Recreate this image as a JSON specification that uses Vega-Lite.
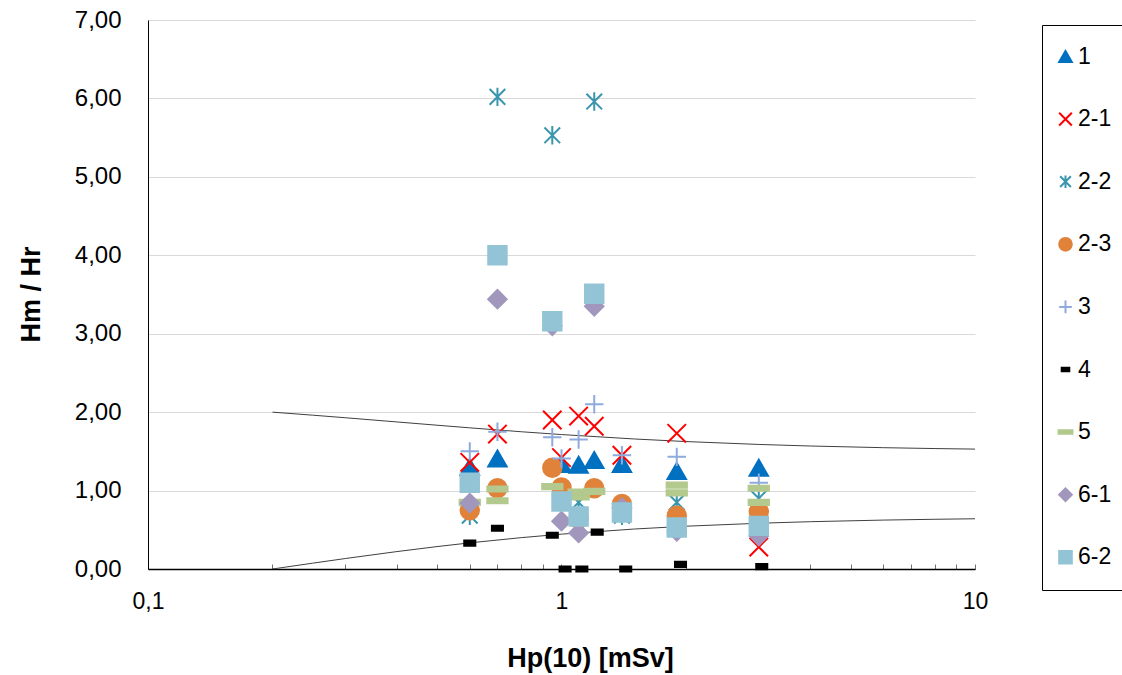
{
  "$schema": "https://vega.github.io/schema/vega-lite/v6.json",
  "autosize": {"type": "none"},
  "padding": {"left": 148, "top": 20, "right": 147, "bottom": 106},
  "width": 827,
  "height": 549,
  "background": "white",
  "config": {
    "view": {"stroke": null},
    "font": "Liberation Sans",
    "axis": {"labelFont": "Liberation Sans", "titleFont": "Liberation Sans", "labelColor": "black", "titleColor": "black"},
    "legend": {"labelFont": "Liberation Sans"}
  },
  "datasets": {
    "pts": [
      {"s": "1", "x": 0.6, "y": 1.3},
      {"s": "1", "x": 0.7, "y": 1.41},
      {"s": "1", "x": 1.0, "y": 1.34},
      {"s": "1", "x": 1.1, "y": 1.33},
      {"s": "1", "x": 1.2, "y": 1.39},
      {"s": "1", "x": 1.4, "y": 1.34},
      {"s": "1", "x": 1.9, "y": 1.25},
      {"s": "1", "x": 3.0, "y": 1.29},
      {"s": "2-1", "x": 0.6, "y": 1.36},
      {"s": "2-1", "x": 0.7, "y": 1.72},
      {"s": "2-1", "x": 0.95, "y": 1.9},
      {"s": "2-1", "x": 1.0, "y": 1.42},
      {"s": "2-1", "x": 1.1, "y": 1.95},
      {"s": "2-1", "x": 1.2, "y": 1.82},
      {"s": "2-1", "x": 1.4, "y": 1.45},
      {"s": "2-1", "x": 1.9, "y": 1.73},
      {"s": "2-1", "x": 3.0, "y": 0.28},
      {"s": "2-2", "x": 0.6, "y": 0.68},
      {"s": "2-2", "x": 0.7, "y": 6.02},
      {"s": "2-2", "x": 0.95, "y": 5.53},
      {"s": "2-2", "x": 1.1, "y": 0.85},
      {"s": "2-2", "x": 1.2, "y": 5.96},
      {"s": "2-2", "x": 1.4, "y": 0.68},
      {"s": "2-2", "x": 1.9, "y": 0.85},
      {"s": "2-2", "x": 3.0, "y": 0.9},
      {"s": "2-3", "x": 0.6, "y": 0.75},
      {"s": "2-3", "x": 0.7, "y": 1.03},
      {"s": "2-3", "x": 0.95, "y": 1.29},
      {"s": "2-3", "x": 1.0, "y": 1.04},
      {"s": "2-3", "x": 1.1, "y": 0.64},
      {"s": "2-3", "x": 1.2, "y": 1.03},
      {"s": "2-3", "x": 1.4, "y": 0.83},
      {"s": "2-3", "x": 1.9, "y": 0.68},
      {"s": "2-3", "x": 3.0, "y": 0.73},
      {"s": "3", "x": 0.6, "y": 1.5},
      {"s": "3", "x": 0.7, "y": 1.75},
      {"s": "3", "x": 0.95, "y": 1.68},
      {"s": "3", "x": 1.0, "y": 1.41},
      {"s": "3", "x": 1.1, "y": 1.65},
      {"s": "3", "x": 1.2, "y": 2.1},
      {"s": "3", "x": 1.4, "y": 1.45},
      {"s": "3", "x": 1.9, "y": 1.43},
      {"s": "3", "x": 3.0, "y": 1.1},
      {"s": "4", "x": 0.6, "y": 0.33},
      {"s": "4", "x": 0.7, "y": 0.52},
      {"s": "4", "x": 0.95, "y": 0.43},
      {"s": "4", "x": 1.02, "y": 0.0},
      {"s": "4", "x": 1.12, "y": 0.0},
      {"s": "4", "x": 1.22, "y": 0.47},
      {"s": "4", "x": 1.43, "y": 0.0},
      {"s": "4", "x": 1.94, "y": 0.06},
      {"s": "4", "x": 3.05, "y": 0.03},
      {"s": "5", "x": 0.6, "y": 0.85},
      {"s": "5", "x": 0.7, "y": 1.02},
      {"s": "5", "x": 0.7, "y": 0.87},
      {"s": "5", "x": 0.95, "y": 1.05},
      {"s": "5", "x": 1.1, "y": 0.98},
      {"s": "5", "x": 1.1, "y": 0.92},
      {"s": "5", "x": 1.2, "y": 0.99},
      {"s": "5", "x": 1.9, "y": 1.07},
      {"s": "5", "x": 1.9, "y": 0.97},
      {"s": "5", "x": 3.0, "y": 1.03},
      {"s": "5", "x": 3.0, "y": 0.85},
      {"s": "6-1", "x": 0.6, "y": 0.84},
      {"s": "6-1", "x": 0.7, "y": 3.44},
      {"s": "6-1", "x": 0.95, "y": 3.1},
      {"s": "6-1", "x": 1.0, "y": 0.61},
      {"s": "6-1", "x": 1.1, "y": 0.46},
      {"s": "6-1", "x": 1.2, "y": 3.35},
      {"s": "6-1", "x": 1.4, "y": 0.78},
      {"s": "6-1", "x": 1.9, "y": 0.48},
      {"s": "6-1", "x": 3.0, "y": 0.42},
      {"s": "6-2", "x": 0.6, "y": 1.1},
      {"s": "6-2", "x": 0.7, "y": 4.0},
      {"s": "6-2", "x": 0.95, "y": 3.16},
      {"s": "6-2", "x": 1.0, "y": 0.86},
      {"s": "6-2", "x": 1.1, "y": 0.67},
      {"s": "6-2", "x": 1.2, "y": 3.51},
      {"s": "6-2", "x": 1.4, "y": 0.72},
      {"s": "6-2", "x": 1.9, "y": 0.53},
      {"s": "6-2", "x": 3.0, "y": 0.55}
    ],
    "curves": [
      {"c": "upper", "x": 0.2, "y": 2.0},
      {"c": "upper", "x": 0.25, "y": 1.9615},
      {"c": "upper", "x": 0.3, "y": 1.9286},
      {"c": "upper", "x": 0.4, "y": 1.875},
      {"c": "upper", "x": 0.5, "y": 1.8333},
      {"c": "upper", "x": 0.6, "y": 1.8},
      {"c": "upper", "x": 0.8, "y": 1.75},
      {"c": "upper", "x": 1.0, "y": 1.7143},
      {"c": "upper", "x": 1.5, "y": 1.6579},
      {"c": "upper", "x": 2.0, "y": 1.625},
      {"c": "upper", "x": 3.0, "y": 1.5882},
      {"c": "upper", "x": 4.0, "y": 1.5682},
      {"c": "upper", "x": 6.0, "y": 1.5469},
      {"c": "upper", "x": 8.0, "y": 1.5357},
      {"c": "upper", "x": 10.0, "y": 1.5288},
      {"c": "lower", "x": 0.2, "y": 0.0},
      {"c": "lower", "x": 0.25, "y": 0.0741},
      {"c": "lower", "x": 0.3, "y": 0.1333},
      {"c": "lower", "x": 0.4, "y": 0.2222},
      {"c": "lower", "x": 0.5, "y": 0.2857},
      {"c": "lower", "x": 0.6, "y": 0.3333},
      {"c": "lower", "x": 0.8, "y": 0.4},
      {"c": "lower", "x": 1.0, "y": 0.4444},
      {"c": "lower", "x": 1.5, "y": 0.5098},
      {"c": "lower", "x": 2.0, "y": 0.5455},
      {"c": "lower", "x": 3.0, "y": 0.5833},
      {"c": "lower", "x": 4.0, "y": 0.6032},
      {"c": "lower", "x": 6.0, "y": 0.6237},
      {"c": "lower", "x": 8.0, "y": 0.6341},
      {"c": "lower", "x": 10.0, "y": 0.6405}
    ]
  },
  "layer": [
    {
      "data": {"name": "curves"},
      "mark": {"type": "line", "color": "#404040", "strokeWidth": 1, "clip": true},
      "encoding": {
        "x": {"field": "x", "type": "quantitative", "scale": {"type": "log", "domain": [0.1, 10], "nice": false},
          "axis": {
            "title": "Hp(10) [mSv]", "titleFontSize": 27, "titleFontWeight": "bold", "titleX": 442, "titleY": 76,
            "values": [0.1, 0.2, 0.3, 0.4, 0.5, 0.6, 0.7, 0.8, 0.9, 1, 2, 3, 4, 5, 6, 7, 8, 9, 10],
            "labelExpr": "datum.value == 0.1 ? '0,1' : (datum.value == 1 ? '1' : (datum.value == 10 ? '10' : ''))",
            "labelOverlap": false, "labelFlush": false, "labelFontSize": 23, "labelPadding": 26,
            "grid": false, "domainColor": "black", "domainWidth": 1.5, "tickColor": "#707070", "tickSize": -5, "tickWidth": 1
          }},
        "y": {"field": "y", "type": "quantitative", "scale": {"domain": [0, 7], "nice": false},
          "axis": {
            "title": "Hm / Hr", "titleFontSize": 27, "titleFontWeight": "bold", "titleX": -103, "titleY": 274,
            "values": [0, 1, 2, 3, 4, 5, 6, 7],
            "labelExpr": "replace(format(datum.value, '.2f'), '.', ',')",
            "labelFontSize": 24, "labelPadding": 27, "ticks": false,
            "grid": true, "gridColor": "#D9D9D9", "gridWidth": 1, "domainColor": "black", "domainWidth": 1
          }},
        "detail": {"field": "c", "type": "nominal"}
      }
    },
    {
      "data": {"name": "pts"},
      "mark": {"type": "point", "filled": true, "opacity": 1, "size": 340, "strokeWidth": 2},
      "encoding": {
        "x": {"field": "x", "type": "quantitative"},
        "y": {"field": "y", "type": "quantitative"},
        "fill": {"field": "s", "type": "nominal",
          "scale": {"domain": ["1", "2-1", "2-2", "2-3", "3", "4", "5", "6-1", "6-2"],
            "range": ["#0070C0", "#FF0000", "#3A95AF", "#E0823A", "#8FAADC", "#000000", "#B3C98D", "#A197BD", "#93C4D6"]},
          "legend": {"title": null, "orient": "none", "legendX": 894, "legendY": 5,
            "strokeColor": "black", "fillColor": "white", "padding": 20, "rowPadding": 38.6,
            "labelFontSize": 23, "labelColor": "black", "symbolSize": 160, "symbolStrokeWidth": 2,
            "symbolOffset": -8, "labelOffset": 1}},
        "stroke": {"field": "s", "type": "nominal",
          "scale": {"domain": ["1", "2-1", "2-2", "2-3", "3", "4", "5", "6-1", "6-2"],
            "range": ["#0070C0", "#FF0000", "#3A95AF", "#E0823A", "#8FAADC", "#000000", "#B3C98D", "#A197BD", "#93C4D6"]}},
        "shape": {"field": "s", "type": "nominal",
          "scale": {"domain": ["1", "2-1", "2-2", "2-3", "3", "4", "5", "6-1", "6-2"],
            "range": ["triangle-up", "M-1,-1L1,1M-1,1L1,-1", "M-0.85,-0.85L0.85,0.85M-0.85,0.85L0.85,-0.85M0,-1L0,1", "circle", "M-1,0L1,0M0,-1L0,1", "M-0.6,-0.28L0.6,-0.28L0.6,0.28L-0.6,0.28Z", "M-1.1,-0.28L1.1,-0.28L1.1,0.28L-1.1,0.28Z", "diamond", "square"]}}
      }
    }
  ]
}
